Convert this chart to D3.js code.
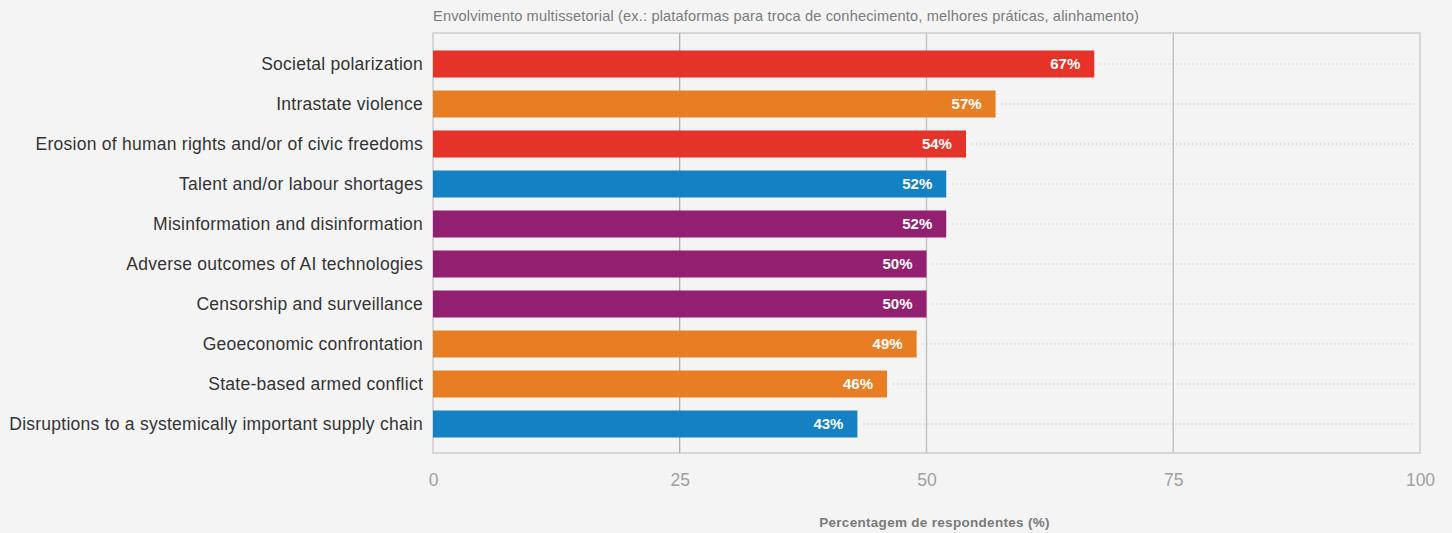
<!DOCTYPE html>
<html>
<head>
<meta charset="utf-8">
<script src="https://cdn.jsdelivr.net/npm/d3@7"></script>
<style>
  html, body { margin: 0; padding: 0; background: #f4f4f4; }
  svg { display: block; font-family: "Liberation Sans", Arial, sans-serif; }
</style>
</head>
<body>
<svg id="chart" width="1452" height="533"></svg>
<script>
// Risks ranked by share of respondents choosing multi-stakeholder engagement
const categories = [
  "Societal polarization",
  "Intrastate violence",
  "Erosion of human rights and/or of civic freedoms",
  "Talent and/or labour shortages",
  "Misinformation and disinformation",
  "Adverse outcomes of AI technologies",
  "Censorship and surveillance",
  "Geoeconomic confrontation",
  "State-based armed conflict",
  "Disruptions to a systemically important supply chain"
];
const values = [67, 57, 54, 52, 52, 50, 50, 49, 46, 43];
const riskGroups = ["societal", "geopolitical", "societal", "economic", "technological",
                    "technological", "technological", "geopolitical", "geopolitical", "economic"];
const groupNames = ["societal", "geopolitical", "economic", "technological"];
const groupColors = ["#e5332a", "#e87e23", "#1581c5", "#921f6f"];
const xTicks = [0, 25, 50, 75, 100];
const chartTitle = "Envolvimento multissetorial (ex.: plataformas para troca de conhecimento, melhores práticas, alinhamento)";
const axisTitle = "Percentagem de respondentes (%)";

const data = categories.map((c, i) => ({ name: c, value: values[i], group: riskGroups[i] }));

const svg = d3.select("#chart");
const plot = { left: 433, right: 1420, top: 33, bottom: 453 };

const x = d3.scaleLinear().domain([0, 100]).range([plot.left, plot.right]);
const y = d3.scaleBand().domain(categories).range([44, 444])
  .paddingInner(0.325).paddingOuter(0.1625);
const color = d3.scaleOrdinal().domain(groupNames).range(groupColors);

// chart title
svg.append("text")
  .attr("x", plot.left).attr("y", 21)
  .attr("font-size", 14.6).attr("fill", "#7a7a7a")
  .attr("letter-spacing", "0.15px")
  .text(chartTitle);

// frame
svg.append("rect")
  .attr("x", plot.left).attr("y", plot.top)
  .attr("width", plot.right - plot.left).attr("height", plot.bottom - plot.top)
  .attr("fill", "none").attr("stroke", "#cccccc").attr("stroke-width", 1.5);

// vertical gridlines
svg.append("g").selectAll("line")
  .data(xTicks.filter(t => t > 0 && t < 100))
  .join("line")
  .attr("x1", d => x(d)).attr("x2", d => x(d))
  .attr("y1", plot.top).attr("y2", plot.bottom)
  .attr("stroke", d => d === 25 ? "#9a9a9a" : "#c4c4c4")
  .attr("stroke-width", d => d === 25 ? 1 : 1.5);

// dotted leaders from bar end to frame
svg.append("g").selectAll("line")
  .data(data)
  .join("line")
  .attr("x1", d => x(d.value) + 6).attr("x2", plot.right - 6)
  .attr("y1", d => y(d.name) + y.bandwidth() / 2)
  .attr("y2", d => y(d.name) + y.bandwidth() / 2)
  .attr("stroke", "#bdbdbd").attr("stroke-width", 1)
  .attr("stroke-dasharray", "1,3");

// bars
svg.append("g").selectAll("rect")
  .data(data)
  .join("rect")
  .attr("x", x(0))
  .attr("y", d => y(d.name))
  .attr("width", d => x(d.value) - x(0))
  .attr("height", y.bandwidth())
  .attr("fill", d => color(d.group));

// value labels inside bars
svg.append("g").selectAll("text")
  .data(data)
  .join("text")
  .attr("x", d => x(d.value) - 14)
  .attr("y", d => y(d.name) + y.bandwidth() / 2)
  .attr("dy", "0.36em")
  .attr("text-anchor", "end")
  .attr("font-size", 15).attr("font-weight", "bold")
  .attr("fill", "#ffffff")
  .text(d => d.value + "%");

// category labels
const yAxis = svg.append("g")
  .attr("transform", `translate(${plot.left},0)`)
  .call(d3.axisLeft(y).tickSize(0).tickPadding(10));
yAxis.select(".domain").remove();
yAxis.selectAll("text")
  .attr("font-size", 17.5).attr("fill", "#333333")
  .attr("letter-spacing", "0.25px")
  .attr("font-family", "\"Liberation Sans\", Arial, sans-serif");

// x axis ticks
const xAxis = svg.append("g")
  .attr("transform", `translate(0,${plot.bottom})`)
  .call(d3.axisBottom(x).tickValues(xTicks).tickSize(0).tickPadding(21));
xAxis.select(".domain").remove();
xAxis.selectAll("text")
  .attr("font-size", 17.5).attr("fill", "#a0a0a0")
  .attr("font-family", "\"Liberation Sans\", Arial, sans-serif");

// axis title
svg.append("text")
  .attr("x", x(50) + 8).attr("y", 527)
  .attr("text-anchor", "middle")
  .attr("font-size", 13.5).attr("font-weight", "bold").attr("fill", "#7a7a7a")
  .attr("letter-spacing", "0.3px")
  .text(axisTitle);
</script>
</body>
</html>
